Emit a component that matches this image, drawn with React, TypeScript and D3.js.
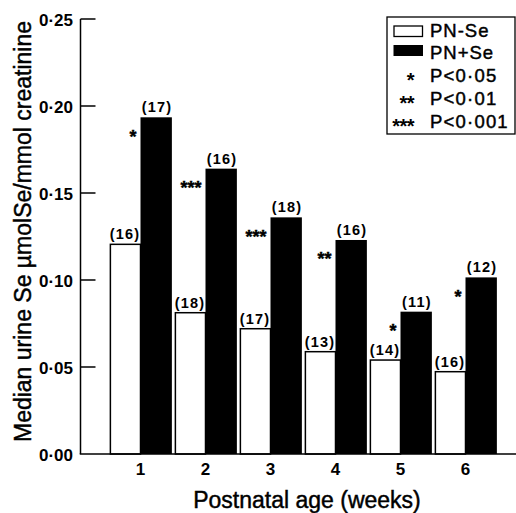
import React from 'react'
import * as d3 from 'd3'

const WEEKS = ['1', '2', '3', '4', '5', '6']
const PN_MINUS_SE = [0.1205, 0.0812, 0.072, 0.0588, 0.054, 0.0473]
const PN_PLUS_SE = [0.1935, 0.164, 0.136, 0.123, 0.0818, 0.1015]
const N_MINUS = [16, 18, 17, 13, 14, 16]
const N_PLUS = [17, 16, 18, 16, 11, 12]
const SIGNIF = ['*', '***', '***', '**', '*', '*']
const Y_TICKS = [0, 0.05, 0.1, 0.15, 0.2, 0.25]
const SERIES = ['PN-Se', 'PN+Se']
const SIG_LEGEND = [
  { stars: '*', label: 'P<0·05' },
  { stars: '**', label: 'P<0·01' },
  { stars: '***', label: 'P<0·001' },
]

const W = 516
const H = 513
const FONT = '"Liberation Sans", Arial, Helvetica, sans-serif'

export default function App() {
  const axisX = 80.5
  const y = d3.scaleLinear().domain([0, 0.25]).range([454, 19])
  const x = d3.scaleBand().domain(WEEKS).range([108, 498]).paddingInner(0.05).paddingOuter(0.025)
  const xs = d3.scaleBand().domain(SERIES).range([0, x.bandwidth()])
  const fmt = (v: number) => d3.format('.2f')(v).replace('.', '·')

  const legendRowY = [37, 59, 82, 105, 128]
  // scanned print looks heavier than plain regular weight
  const heavy = { stroke: '#000', strokeWidth: 0.45 }

  return (
    <svg
      width={W}
      height={H}
      style={{ position: 'absolute', left: 0, top: 0, background: '#fff' }}
      fontFamily={FONT}
    >
      <rect width={W} height={H} fill="#fff" />

      {/* bars */}
      {WEEKS.map((wk, i) => {
        const gx = x(wk) as number
        const xm = gx + (xs('PN-Se') as number)
        const xp = gx + (xs('PN+Se') as number)
        const bw = xs.bandwidth()
        const yMinus = y(PN_MINUS_SE[i])
        const yPlus = y(PN_PLUS_SE[i])
        const starFs = 18
        return (
          <g key={wk}>
            <rect
              x={xm + 0.75}
              y={yMinus}
              width={bw - 0.75}
              height={y(0) - yMinus}
              fill="#fff"
              stroke="#000"
              strokeWidth={1.5}
            />
            <rect x={xp} y={yPlus} width={bw + 0.5} height={y(0) - yPlus} fill="#000" />
            <text
              x={xm + bw / 2}
              y={yMinus - 5}
              textAnchor="middle"
              fontSize={14.5}
              fontWeight="bold"
              letterSpacing={1.2}
            >
              ({N_MINUS[i]})
            </text>
            <text
              x={xp + bw / 2 + 1}
              y={yPlus - 5}
              textAnchor="middle"
              fontSize={14.5}
              fontWeight="bold"
              letterSpacing={1.2}
            >
              ({N_PLUS[i]})
            </text>
            <text
              x={xp - 4}
              y={yPlus + 15 + starFs * 0.58}
              textAnchor="end"
              fontSize={starFs}
              fontWeight="bold"
              {...heavy}
            >
              {SIGNIF[i]}
            </text>
          </g>
        )
      })}

      {/* y axis */}
      <line x1={axisX} x2={axisX} y1={y(0.25)} y2={y(0)} stroke="#000" strokeWidth={1.5} />
      {Y_TICKS.map((t) => (
        <g key={t}>
          {t > 0 && (
            <line x1={axisX} x2={axisX + 15} y1={y(t)} y2={y(t)} stroke="#000" strokeWidth={1.5} />
          )}
          <text x={73} y={y(t) + 7} textAnchor="end" fontSize={17} fontWeight="bold">
            {fmt(t)}
          </text>
        </g>
      ))}

      {/* x axis */}
      <line x1={axisX - 0.75} x2={W} y1={y(0)} y2={y(0)} stroke="#000" strokeWidth={1.5} />
      {WEEKS.map((wk) => (
        <text
          key={wk}
          x={(x(wk) as number) + x.bandwidth() / 2}
          y={475}
          textAnchor="middle"
          fontSize={17}
          fontWeight="bold"
        >
          {wk}
        </text>
      ))}

      {/* axis titles */}
      <text x={307} y={508} textAnchor="middle" fontSize={23} {...heavy}>
        Postnatal age (weeks)
      </text>
      <text
        transform={`translate(31,${231.5}) rotate(-90)`}
        textAnchor="middle"
        fontSize={23}
        {...heavy}
      >
        Median urine Se µmolSe/mmol creatinine
      </text>

      {/* legend */}
      <rect x={387} y={17} width={128} height={117} fill="#fff" stroke="#000" strokeWidth={1.3} />
      <rect x={394} y={26} width={28.5} height={10.5} fill="#fff" stroke="#000" strokeWidth={1.3} />
      <rect x={393.5} y={45} width={29.5} height={11} fill="#000" />
      {SERIES.map((s, i) => (
        <text key={s} x={430} y={legendRowY[i]} fontSize={18.5} letterSpacing={1} {...heavy}>
          {s}
        </text>
      ))}
      {SIG_LEGEND.map((d, i) => (
        <g key={d.label}>
          <text
            x={414}
            y={legendRowY[i + 2] + 5}
            textAnchor="end"
            fontSize={20}
            fontWeight="bold"
            letterSpacing={-0.5}
          >
            {d.stars}
          </text>
          <text x={430} y={legendRowY[i + 2]} fontSize={18.5} letterSpacing={1.2} {...heavy}>
            {d.label}
          </text>
        </g>
      ))}
    </svg>
  )
}
